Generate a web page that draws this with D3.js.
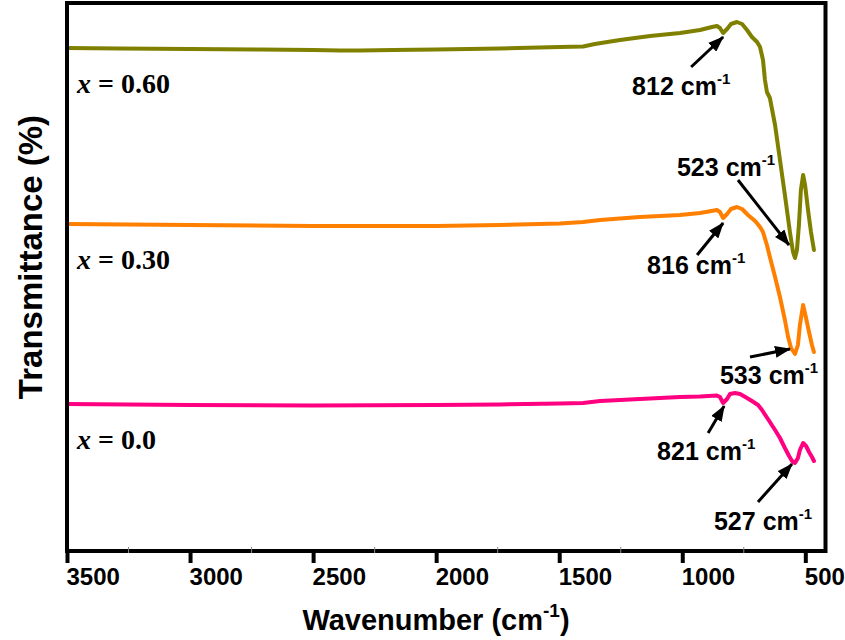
<!DOCTYPE html>
<html>
<head>
<meta charset="utf-8">
<script src="https://cdn.jsdelivr.net/npm/d3@7"></script>
<style>
body { margin: 0; background: #fff; }
</style>
</head>
<body>
<div class="chart"></div>
<script>
// FTIR spectra, values (transmittance in a.u.)
var wave060 = [3500, 3285, 3000, 2716, 2500, 2391, 2310, 2175, 2001, 1741, 1497, 1403, 1355, 1253, 1131, 1009, 928, 879, 859, 847, 834, 818, 802, 778, 757, 737, 717, 696, 684, 672, 664, 656, 644, 623, 603, 583, 562, 550, 542, 534, 526, 518, 509, 501, 489, 477, 465];
var trans060 = [503, 502.5, 502, 501.5, 501, 500.5, 500.5, 501, 501.5, 502.5, 504, 504.5, 507, 511, 515, 518, 521, 524, 525, 523, 518, 522, 527, 529, 527, 521, 514, 509, 504, 491, 471, 459, 453, 426, 391, 356, 318, 299, 293, 301, 326, 361, 376, 366, 341, 319, 301];

var wave030 = [3500, 3000, 2500, 2001, 1741, 1497, 1403, 1334, 1172, 1009, 928, 859, 847, 834, 818, 802, 778, 757, 733, 704, 684, 672, 656, 644, 623, 603, 583, 570, 558, 542, 530, 522, 509, 497, 485, 473, 465];
var trans030 = [327, 326, 325, 325, 326, 327.5, 329, 331, 334, 336, 338, 341, 339, 333, 337, 342, 344, 342, 336, 330, 324, 319, 306, 294, 274, 254, 231, 214, 203, 197, 206, 226, 246, 233, 219, 206, 199];

var wave000 = [3500, 3000, 2500, 2001, 1741, 1497, 1403, 1334, 1172, 1009, 928, 859, 847, 834, 818, 806, 786, 765, 737, 717, 692, 676, 660, 644, 623, 603, 583, 566, 554, 542, 530, 522, 509, 497, 485, 473, 465];
var trans000 = [147, 146, 145.5, 146, 146.5, 147.5, 148, 150, 152, 154, 154.5, 155.5, 154, 148, 152, 157, 158, 157, 153, 150, 146, 141, 135, 129, 121, 113, 103, 95, 90, 88, 93, 101, 108, 105, 99, 94, 90];

var seriesNames = ["0.60", "0.30", "0.0"];
var seriesColors = ["#808000", "#ff8000", "#ff0080"];
var tickValues = [3500, 3000, 2500, 2000, 1500, 1000, 500];
var minorTicks = [3250, 2750, 2250, 1750, 1250, 750];

// peak labels: which series, the wavenumber label and the dip it points at
var peakText = ["812", "523", "816", "533", "821", "527"];
var peakSeries = [0, 0, 1, 1, 2, 2];
var peakWave = [834, 542, 834, 542, 834, 542];

var width = 845, height = 640;
var plotLeft = 67, plotRight = 825.5, plotTop = 3, plotBottom = 551;

var svg = d3.select('.chart')
    .append('svg')
    .attr('width', width)
    .attr('height', height);

var xscale = d3.scaleLinear()
    .domain([3500, 418])
    .range([plotLeft, plotRight]);

var yscale = d3.scaleLinear()
    .domain([0, 548])
    .range([plotBottom, plotTop]);

var allWave = [wave060, wave030, wave000];
var allTrans = [trans060, trans030, trans000];

var line = d3.line()
    .x(d => xscale(d[0]))
    .y(d => yscale(d[1]));

allWave.forEach((w, i) => {
    var pts = w.map((v, j) => [v, allTrans[i][j]]);
    svg.append('path')
        .datum(pts)
        .attr('d', line)
        .attr('fill', 'none')
        .attr('stroke', seriesColors[i])
        .attr('stroke-width', 4)
        .attr('stroke-linejoin', 'round')
        .attr('stroke-linecap', 'round');
});

// frame
svg.append('rect')
    .attr('x', plotLeft)
    .attr('y', plotTop)
    .attr('width', plotRight - plotLeft)
    .attr('height', plotBottom - plotTop)
    .attr('fill', 'none')
    .attr('stroke', '#000')
    .attr('stroke-width', 4);

// x axis, labels sit to the right of the tick as in the original
var xaxis = d3.axisBottom(xscale)
    .tickValues(tickValues)
    .tickSize(12)
    .tickFormat(d3.format('d'));

var gx = svg.append('g')
    .attr('transform', 'translate(0,' + plotBottom + ')')
    .call(xaxis);
gx.select('.domain').remove();
gx.selectAll('.tick line')
    .attr('stroke', '#000')
    .attr('stroke-width', 4);
gx.selectAll('.tick text')
    .attr('text-anchor', 'start')
    .attr('x', -1)
    .attr('y', 34)
    .attr('dy', null)
    .attr('fill', '#000')
    .style('font-family', '"Liberation Sans", Arial, sans-serif')
    .style('font-weight', 'bold')
    .style('font-size', '24px');

svg.selectAll('.minor')
    .data(minorTicks)
    .enter()
    .append('line')
    .attr('x1', d => xscale(d))
    .attr('x2', d => xscale(d))
    .attr('y1', plotBottom - 4)
    .attr('y2', plotBottom + 2)
    .attr('stroke', '#888')
    .attr('stroke-width', 1);

// axis titles
var xt = svg.append('text')
    .attr('x', 436)
    .attr('y', 630)
    .attr('text-anchor', 'middle')
    .style('font-family', '"Liberation Sans", Arial, sans-serif')
    .style('font-weight', 'bold')
    .style('font-size', '29px');
xt.append('tspan').text('Wavenumber (cm');
xt.append('tspan').attr('dy', -13).style('font-size', '19px').text('-1');
xt.append('tspan').attr('dy', 13).text(')');

svg.append('text')
    .attr('transform', 'translate(42,257) rotate(-90)')
    .attr('text-anchor', 'middle')
    .style('font-family', '"Liberation Sans", Arial, sans-serif')
    .style('font-weight', 'bold')
    .style('font-size', '33px')
    .text('Transmittance (%)');

// series labels
seriesNames.forEach((n, i) => {
    var t = svg.append('text')
        .attr('x', 77)
        .attr('y', yscale(allTrans[i][0]) + 45)
        .style('font-family', '"Liberation Serif", "Times New Roman", serif')
        .style('font-weight', 'bold')
        .style('font-size', '28px')
        .attr('xml:space', 'preserve');
    t.append('tspan').style('font-style', 'italic').text('x');
    t.append('tspan').text(' = ' + n);
});

// arrows
svg.append('defs').append('marker')
    .attr('id', 'head')
    .attr('markerUnits', 'userSpaceOnUse')
    .attr('markerWidth', 16)
    .attr('markerHeight', 12)
    .attr('refX', 15)
    .attr('refY', 6)
    .attr('orient', 'auto')
    .append('path')
    .attr('d', 'M0,0 L16,6 L0,12 Z')
    .attr('fill', '#000');

// offsets from the dip: arrow tip, arrow tail, label start
var tipOff = [[0, 4], [-6, -13], [0, 5], [-5, -5], [1, 3], [-3, 1]];
var tailOff = [[-32, 34], [-57, -78], [-26, 37], [-45, 3], [-15, 30], [-37, 39]];
var labelOff = [[-91, 62], [-118, -82], [-76, 56], [-75, 30], [-66, 57], [-81, 67]];

peakText.forEach((p, i) => {
    var s = peakSeries[i];
    var k = allWave[s].indexOf(peakWave[i]);
    var px = xscale(peakWave[i]);
    var py = yscale(allTrans[s][k]);
    svg.append('line')
        .attr('x1', px + tailOff[i][0])
        .attr('y1', py + tailOff[i][1])
        .attr('x2', px + tipOff[i][0])
        .attr('y2', py + tipOff[i][1])
        .attr('stroke', '#000')
        .attr('stroke-width', 3)
        .attr('marker-end', 'url(#head)');
    var t = svg.append('text')
        .attr('x', px + labelOff[i][0])
        .attr('y', py + labelOff[i][1])
        .style('font-family', '"Liberation Sans", Arial, sans-serif')
        .style('font-weight', 'bold')
        .style('font-size', '25px');
    t.append('tspan').text(p + ' cm');
    t.append('tspan').attr('dy', -11).style('font-size', '15px').text('-1');
});
</script>
</body>
</html>
